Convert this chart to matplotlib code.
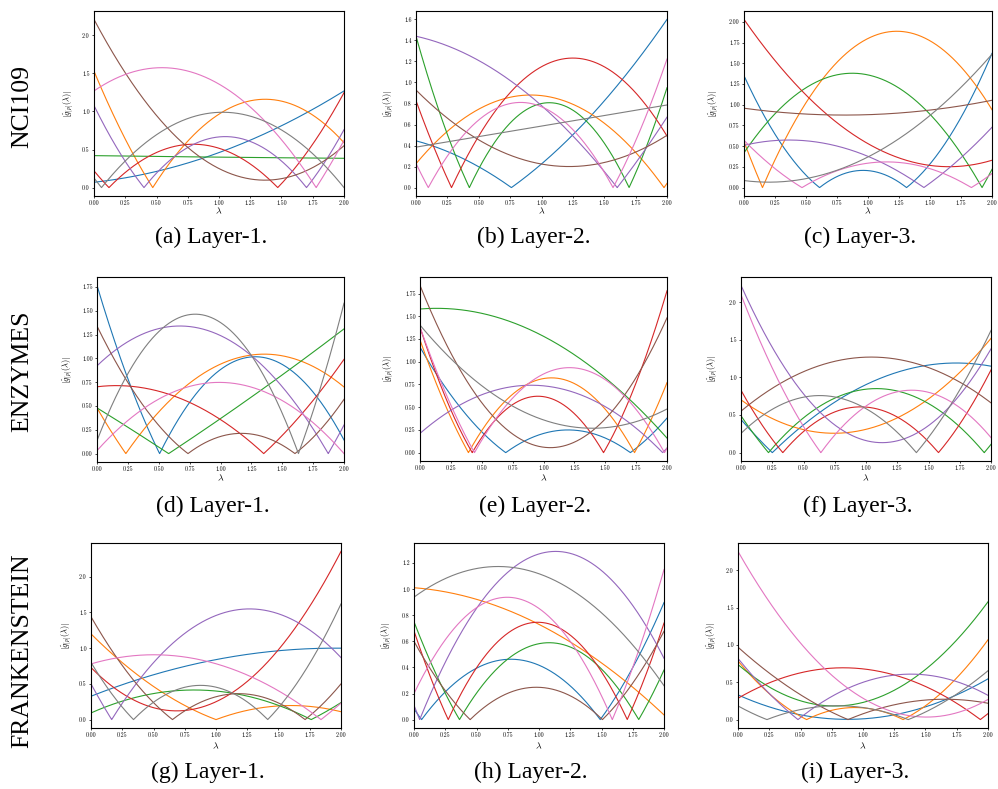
import numpy as np
import matplotlib
matplotlib.use("Agg")
import matplotlib.pyplot as plt

plt.rcParams["mathtext.fontset"] = "cm"

# ---------------- data ----------------
# Each filter response is a quadratic polynomial in lambda; every curve is given by
# its signed value read at lambda = 0, 1 and 2 (order: C0..C7 colour cycle:
# blue, orange, green, red, purple, brown, pink, gray).
NCI109_L1 = [(0.07, 0.46, 1.27), (-1.53, 0.965, 0.59), (0.42, 0.40, 0.385),
             (-0.22, 0.517, -1.247), (-1.078, 0.666, -0.761), (2.21, 0.25, 0.55),
             (1.27, 1.36, -0.62), (-0.126, 0.989, 0.0)]
NCI109_L2 = [(0.445, -0.225, -1.6), (0.227, 0.875, -0.04), (1.44, -0.80, 0.95),
             (-0.827, 1.15, 0.49), (1.44, 0.78, -0.67), (0.928, 0.224, 0.4975),
             (-0.23, 0.769, -1.223), (0.385, 0.585, 0.786)]
NCI109_L3 = [(1.35, -0.205, 1.62), (-0.555, 1.80, 0.94), (0.42, 1.36, -0.22),
             (2.03, 0.53, 0.33), (0.51, 0.377, -0.728), (0.958, 0.88, 1.054),
             (0.57, -0.295, 0.17), (0.085, 0.37, 1.61)]
ENZYMES_L1 = [(-1.767, 0.883, 0.143), (-0.48, 0.94, 0.70), (0.48, -0.3675, -1.31),
              (0.702, 0.3575, -0.99), (0.922, 1.24, -0.30), (1.34, -0.18, 0.57),
              (0.031, 0.748, 0.0), (0.136, 1.377, -1.58)]
ENZYMES_L2 = [(1.16, -0.211, 0.38), (1.24, -0.815, 0.77), (1.58, 1.28, 0.16),
              (1.38, -0.616, 1.78), (0.212, 0.735, -0.05), (1.84, 0.06, 1.483),
              (1.38, -0.865, 0.05), (1.403, 0.36, 0.48)]
ENZYMES_L3 = [(-0.44, 0.905, 1.15), (0.702, 0.31, 1.52), (0.49, -0.844, 0.11),
              (0.83, -0.606, 1.10), (2.225, 0.16, 1.38), (0.552, 1.27, 0.662),
              (2.1, -0.62, -0.2), (0.256, 0.585, -1.625)]
FRANK_L1 = [(0.327, 0.84, 1.0), (1.2, 0.0, -0.11), (0.093, 0.40, -0.238),
            (0.729, 0.25, 2.355), (-0.5, 1.458, 0.868), (1.44, -0.32, 0.5),
            (0.78, 0.782, -0.23), (0.8, -0.454, 1.62)]
FRANK_L2 = [(-0.082, 0.417, -0.897), (1.011, 0.73, 0.036), (0.75, -0.582, 0.38),
            (-0.68, 0.746, -0.74), (-0.11, 1.27, 0.47), (0.6, -0.2476, 0.677),
            (0.2, 0.852, -1.15), (0.939, 1.118, 0.26)]
FRANK_L3 = [(0.331, 0.01, 0.546), (0.787, -0.157, 1.07), (0.738, 0.23, 1.579),
            (0.286, 0.68, -0.08), (-0.82, 0.50, 0.325), (0.971, -0.078, -0.219),
            (2.255, 0.286, 0.27), (0.183, -0.1615, 0.655)]

panels = [NCI109_L1, NCI109_L2, NCI109_L3,
          ENZYMES_L1, ENZYMES_L2, ENZYMES_L3,
          FRANK_L1, FRANK_L2, FRANK_L3]

x_ticks = [0.0, 0.25, 0.5, 0.75, 1.0, 1.25, 1.5, 1.75, 2.0]
y_ticks = [
    [0.0, 0.5, 1.0, 1.5, 2.0],
    [0.0, 0.2, 0.4, 0.6, 0.8, 1.0, 1.2, 1.4, 1.6],
    [0.0, 0.25, 0.5, 0.75, 1.0, 1.25, 1.5, 1.75, 2.0],
    [0.0, 0.25, 0.5, 0.75, 1.0, 1.25, 1.5, 1.75],
    [0.0, 0.25, 0.5, 0.75, 1.0, 1.25, 1.5, 1.75],
    [0.0, 0.5, 1.0, 1.5, 2.0],
    [0.0, 0.5, 1.0, 1.5, 2.0],
    [0.0, 0.2, 0.4, 0.6, 0.8, 1.0, 1.2],
    [0.0, 0.5, 1.0, 1.5, 2.0],
]
y_decimals = [1, 1, 2, 2, 2, 1, 1, 1, 1]
captions = ["(a) Layer-1.", "(b) Layer-2.", "(c) Layer-3.",
            "(d) Layer-1.", "(e) Layer-2.", "(f) Layer-3.",
            "(g) Layer-1.", "(h) Layer-2.", "(i) Layer-3."]
row_labels = ["NCI109", "ENZYMES", "FRANKENSTEIN"]

# ---------------- layout ----------------
W, H = 998, 789
fig = plt.figure(figsize=(W / 100, H / 100), dpi=100)

rects = [(94, 11, 344, 196), (416, 11, 667, 196), (744, 11, 992, 196),
         (97, 277, 344, 462), (420, 277, 667, 461), (741, 277, 991, 461),
         (91, 543, 341, 728), (414, 543, 664, 728), (738, 543, 988, 728)]
ylab_off = [19, 21, 24, 23, 25, 22, 18, 21, 20]
xlab_y = [211, 211, 211, 478, 478, 478, 746, 746, 746]
cap_y = [237, 237, 237, 506, 506, 506, 772, 772, 772]
row_y = [107, 371, 651]

lam = np.linspace(0.0, 2.0, 2001)
colors = plt.rcParams["axes.prop_cycle"].by_key()["color"]

for i, (data, (l, t, r, b)) in enumerate(zip(panels, rects)):
    ax = fig.add_axes([l / W, 1 - b / H, (r - l) / W, (b - t) / H])
    for j, (g0, g1, g2) in enumerate(data):
        c2 = (g0 - 2 * g1 + g2) / 2.0
        c1 = g1 - g0 - c2
        resp = np.abs(np.polyval([c2, c1, g0], lam))
        ax.plot(lam, resp, color=colors[j], lw=0.8)
    ax.set_xlim(0, 2)
    ax.set_xticks(x_ticks)
    ax.set_xticklabels(["%.2f" % v for v in x_ticks], fontfamily="cmr10")
    ax.set_yticks(y_ticks[i])
    fmt = "%%.%df" % y_decimals[i]
    ax.set_yticklabels([fmt % v for v in y_ticks[i]], fontfamily="cmr10")
    ax.tick_params(labelsize=4.3, length=1.6, width=0.5, pad=1.5)
    for sp in ax.spines.values():
        sp.set_linewidth(0.8)
    ax.set_ylabel(r"$|\hat{g}_{[p]}(\lambda)|$", fontsize=6)
    ax.yaxis.set_label_coords(-ylab_off[i] / (r - l), 0.5)
    cx = (l + r) / 2
    fig.text(cx / W, 1 - xlab_y[i] / H, r"$\lambda$", fontsize=7,
             ha="center", va="center")
    fig.text((cx - 8) / W, 1 - cap_y[i] / H, captions[i], fontsize=17,
             family="Liberation Serif", ha="center", va="center")

for k, name in enumerate(row_labels):
    fig.text(22 / W, 1 - row_y[k] / H, name, fontsize=18.5,
             family="Liberation Serif", rotation=90, ha="center", va="center")

fig.savefig("out.png", dpi=100)
